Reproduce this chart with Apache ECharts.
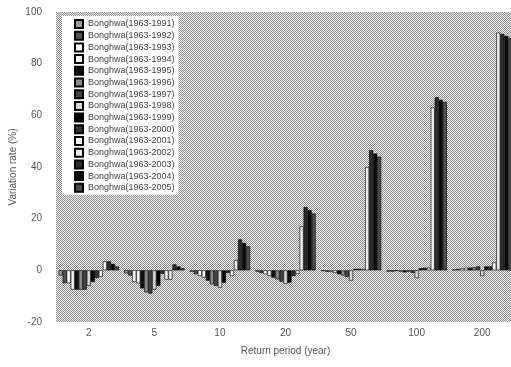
<!DOCTYPE html>
<html>
<head>
<meta charset="utf-8">
<script src="https://cdn.jsdelivr.net/npm/echarts@6/dist/echarts.min.js"></script>
<style>
  html, body { margin: 0; padding: 0; background: #fff; }
  #chart { width: 511px; height: 367px; }
</style>
</head>
<body>
<div id="chart"></div>
<script>
// return periods (x categories)
var periods = ['2', '5', '10', '20', '50', '100', '200'];
var yTicks = [-20, 0, 20, 40, 60, 80, 100];

// variation rate (%) for each record period, one value per return period
var r1991 = [-2, -1.2, -0.6, -0.5, -0.3, -0.5, 0.3];
var r1992 = [-5, -2, -1.5, -1, -0.5, -0.5, 0.5];
var r1993 = [-5, -4.5, -2.2, -1.5, -0.6, -0.2, 0.8];
var r1994 = [-7.5, -5, -2.8, -2.2, -1, -0.5, 1];
var r1995 = [-7.5, -7, -4, -2.8, -1.5, -0.8, 1];
var r1996 = [-7.5, -8.5, -5.4, -3.5, -2, -0.5, 1.2];
var r1997 = [-7.5, -9, -6, -4.4, -2.5, -1, 1.5];
var r1998 = [-6, -7.5, -6.7, -5.2, -4, -3, -2.2];
var r1999 = [-4.5, -6, -4.8, -4.8, 0.6, 0.8, 1.5];
var r2000 = [-3, -1.3, -1, -2.2, 0.6, 1, 1.5];
var r2001 = [-2.5, -3.6, -2.2, -1.3, 0.5, 1, 3];
var r2002 = [3.5, -3.6, 4, 17, 40, 63, 92];
var r2003 = [3.5, 2.3, 12, 24.5, 46.5, 67, 91.5];
var r2004 = [2.5, 1.5, 10.6, 23.3, 45.2, 66, 90.7];
var r2005 = [1.5, 0.8, 9.3, 22, 44, 65.2, 90];

var records = [r1991, r1992, r1993, r1994, r1995, r1996, r1997, r1998,
    r1999, r2000, r2001, r2002, r2003, r2004, r2005];
var endYears = [1991, 1992, 1993, 1994, 1995, 1996, 1997, 1998,
    1999, 2000, 2001, 2002, 2003, 2004, 2005];

// bar fills, greyscale like the printed figure
var fills = ['#9c9c9c', '#555555', '#ffffff', '#f4f4f4', '#111111',
    '#8a8a8a', '#444444', '#d8d8d8', '#000000', '#333333',
    '#f8f8f8', '#ececec', '#2e2e2e', '#0a0a0a', '#4c4c4c'];

// dithered grey background of the plot area
function ditherPattern() {
    var c = document.createElement('canvas');
    c.width = 2;
    c.height = 2;
    var ctx = c.getContext('2d');
    ctx.fillStyle = '#efefef';
    ctx.fillRect(0, 0, 2, 2);
    ctx.fillStyle = '#909090';
    ctx.fillRect(0, 0, 1, 1);
    ctx.fillRect(1, 1, 1, 1);
    return {image: c, repeat: 'repeat'};
}

var font = 'Liberation Sans';
var names = endYears.map(function (y) { return 'Bonghwa(1963-' + y + ')'; });

var series = records.map(function (vals, i) {
    return {
        name: names[i],
        type: 'bar',
        data: vals,
        barGap: '0%',
        barCategoryGap: '8%',
        itemStyle: {color: fills[i], borderColor: '#000', borderWidth: 0.6},
        emphasis: {disabled: true}
    };
});

var chart = echarts.init(document.getElementById('chart'), null, {renderer: 'canvas'});
chart.setOption({
    animation: false,
    grid: {
        left: 56, right: -4, top: 12, bottom: 45,
        outerBoundsMode: 'none',
        containLabel: false,
        show: true,
        backgroundColor: ditherPattern(),
        borderWidth: 0
    },
    legend: {
        data: names,
        orient: 'vertical',
        left: 62,
        top: 16,
        padding: [3, 4, 2, 12],
        backgroundColor: '#fff',
        icon: 'rect',
        itemWidth: 8,
        itemHeight: 8,
        itemGap: 1.7,
        textStyle: {fontFamily: font, fontSize: 9, color: '#444', lineHeight: 10}
    },
    xAxis: {
        type: 'category',
        data: periods,
        position: 'bottom',
        axisLine: {show: false, onZero: false},
        axisTick: {show: false},
        axisLabel: {fontFamily: font, fontSize: 10, color: '#555', margin: 6},
        name: 'Return period (year)',
        nameLocation: 'middle',
        nameGap: 24,
        nameMoveOverlap: false,
        nameTextStyle: {fontFamily: font, fontSize: 10, color: '#555'}
    },
    yAxis: {
        type: 'value',
        min: yTicks[0],
        max: yTicks[yTicks.length - 1],
        interval: 20,
        axisLine: {show: false},
        axisTick: {show: false},
        splitLine: {show: false},
        axisLabel: {fontFamily: font, fontSize: 10, color: '#555', margin: 14},
        name: 'Variation rate (%)',
        nameLocation: 'middle',
        nameGap: 38,
        nameMoveOverlap: false,
        nameTextStyle: {fontFamily: font, fontSize: 10, color: '#555'}
    },
    series: series
});
</script>
</body>
</html>
